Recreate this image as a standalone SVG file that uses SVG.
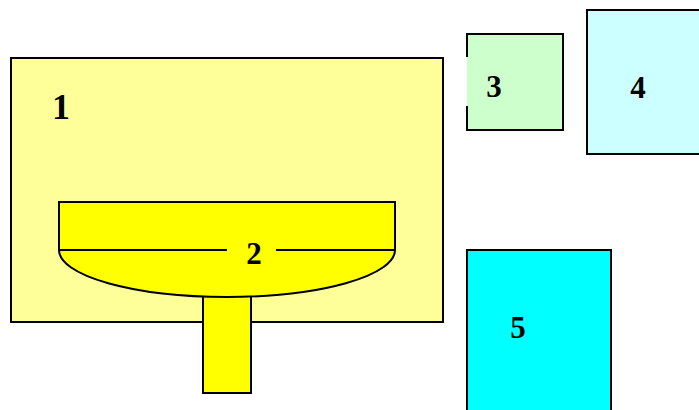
<svg xmlns="http://www.w3.org/2000/svg" width="699" height="410" viewBox="0 0 699 410">
<style>
.s{stroke:#000;stroke-width:2}
.t{font-family:"Liberation Serif",serif;font-weight:bold;fill:#000}
</style>
<rect width="699" height="410" fill="#fff"/>
<g id="n1">
<rect class="s" x="11" y="58" width="432" height="264" fill="#FFFF99"/>
<text class="t" x="52" y="119" font-size="36">1</text>
</g>
<g id="n2">
<rect class="s" x="203" y="290" width="48" height="103" fill="#FFFF00"/>
<path class="s" d="M59,202 H395 V250 A168,47 0 0 1 59,250 Z" fill="#FFFF00"/>
<path class="s" d="M59,250 H227 M276,250 H395" fill="none"/>
<text class="t" x="254" y="264" font-size="31" text-anchor="middle">2</text>
</g>
<g id="n3">
<rect x="467" y="34" width="96" height="96" fill="#CCFFCC"/>
<path class="s" d="M467,57 V34 H563 V130 H467 V106" fill="none"/>
<text class="t" x="494" y="97" font-size="31" text-anchor="middle">3</text>
</g>
<g id="n4">
<rect class="s" x="587" y="10" width="120" height="144" fill="#CCFFFF"/>
<text class="t" x="638" y="98" font-size="31" text-anchor="middle">4</text>
</g>
<g id="n5">
<rect class="s" x="467" y="250" width="144" height="170" fill="#00FFFF"/>
<text class="t" x="518" y="338" font-size="31" text-anchor="middle">5</text>
</g>
<g id="connectors"/>
</svg>
